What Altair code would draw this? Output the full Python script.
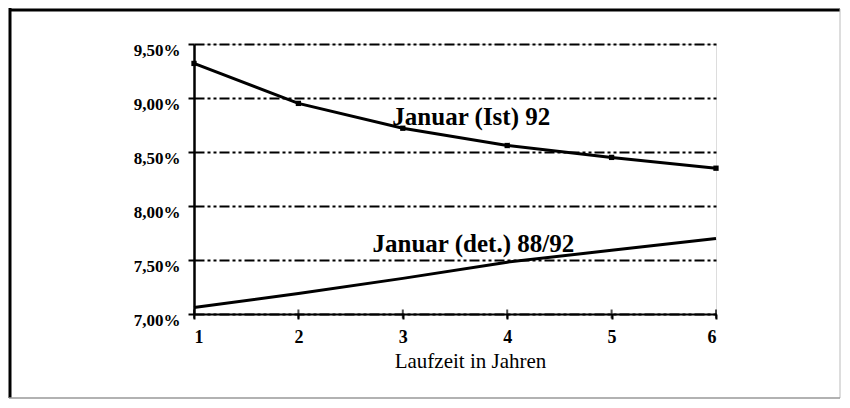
import altair as alt
import pandas as pd

jahre = [1, 2, 3, 4, 5, 6]
ist_92 = [9.32, 8.95, 8.72, 8.56, 8.45, 8.35]
det_88_92 = [7.06, 7.19, 7.33, 7.48, 7.59, 7.70]
y_ticks = [7.0, 7.5, 8.0, 8.5, 9.0, 9.5]
label_ist = "Januar (Ist) 92"
label_det = "Januar (det.) 88/92"
x_title = "Laufzeit in Jahren"

FONT = "Liberation Serif, Times New Roman, Times, serif"

df = pd.DataFrame({
    "Laufzeit": jahre * 2,
    "Zins": ist_92 + det_88_92,
    "Serie": [label_ist] * 6 + [label_det] * 6,
})
df_ist = df[df["Serie"] == label_ist]

labels = pd.DataFrame({
    "Laufzeit": [2.90, 2.71],
    "Zins": [8.75, 7.575],
    "txt": [label_ist, label_det],
})
ticks_df = pd.DataFrame({"Laufzeit": jahre, "Zins": [7.0] * 6})

xs = alt.Scale(domain=[1, 6], nice=False, zero=False)
ys = alt.Scale(domain=[7.0, 9.5], nice=False, zero=False)

x_axis = alt.Axis(
    values=jahre, format="d", title=x_title, grid=False,
    domainColor="black", domainWidth=2, tickColor="black", tickWidth=2, tickSize=5,
    labelFont=FONT, labelFontWeight="bold", labelFontSize=18, labelColor="black",
    labelPadding=9,
    titleFont=FONT, titleFontWeight="normal", titleFontSize=21, titleColor="black",
    titlePadding=4, titleX=276, titleAlign="center",
)
y_axis = alt.Axis(
    values=y_ticks, title=None,
    labelExpr="replace(format(datum.value, '.2f'), '.', ',') + '%'",
    domainColor="black", domainWidth=2.5, tickColor="black", tickWidth=2, tickSize=6,
    labelFont=FONT, labelFontWeight="bold", labelFontSize=17, labelColor="black",
    labelPadding=8, labelOffset=6,
    grid=True, gridColor="black", gridWidth=1.8, gridDash=[10, 3, 3, 3, 3, 3],
)

lines = alt.Chart(df).mark_line(color="black", strokeWidth=3).encode(
    x=alt.X("Laufzeit:Q", scale=xs, axis=x_axis),
    y=alt.Y("Zins:Q", scale=ys, axis=y_axis),
    detail="Serie:N",
)
points = alt.Chart(df_ist).mark_point(shape="square", filled=True, color="black", size=28, opacity=1).encode(
    x=alt.X("Laufzeit:Q", scale=xs),
    y=alt.Y("Zins:Q", scale=ys),
)
xticks = alt.Chart(ticks_df).mark_tick(orient="vertical", color="black", size=9, thickness=2).encode(
    x=alt.X("Laufzeit:Q", scale=xs),
    y=alt.Y("Zins:Q", scale=ys),
)
texts = alt.Chart(labels).mark_text(
    font=FONT, fontWeight="bold", fontSize=25, color="black", align="left", baseline="alphabetic"
).encode(
    x=alt.X("Laufzeit:Q", scale=xs),
    y=alt.Y("Zins:Q", scale=ys),
    text="txt:N",
)

one = pd.DataFrame({"a": [0]})
frame_left = alt.Chart(one).mark_rule(color="black", strokeWidth=3).encode(
    x=alt.value(-184), y=alt.value(-36), y2=alt.value(354))
frame_top = alt.Chart(one).mark_rule(color="black", strokeWidth=3).encode(
    x=alt.value(-185), x2=alt.value(646), y=alt.value(-34))
frame_right = alt.Chart(one).mark_rule(color="#bbbbbb", strokeWidth=1).encode(
    x=alt.value(646), y=alt.value(-35), y2=alt.value(354))
frame_bottom = alt.Chart(one).mark_rule(color="#999999", strokeWidth=1.5).encode(
    x=alt.value(-185), x2=alt.value(646), y=alt.value(354))

chart = alt.layer(
    lines, points, xticks, texts, frame_left, frame_top, frame_right, frame_bottom
).properties(
    width=522, height=270,
    autosize=alt.AutoSizeParams(type="none"),
    padding={"left": 186, "top": 36, "right": 126, "bottom": 86},
).configure_view(stroke=None).configure(background="white")

chart.save("out.html", embed_options={"renderer": "svg", "actions": False})
